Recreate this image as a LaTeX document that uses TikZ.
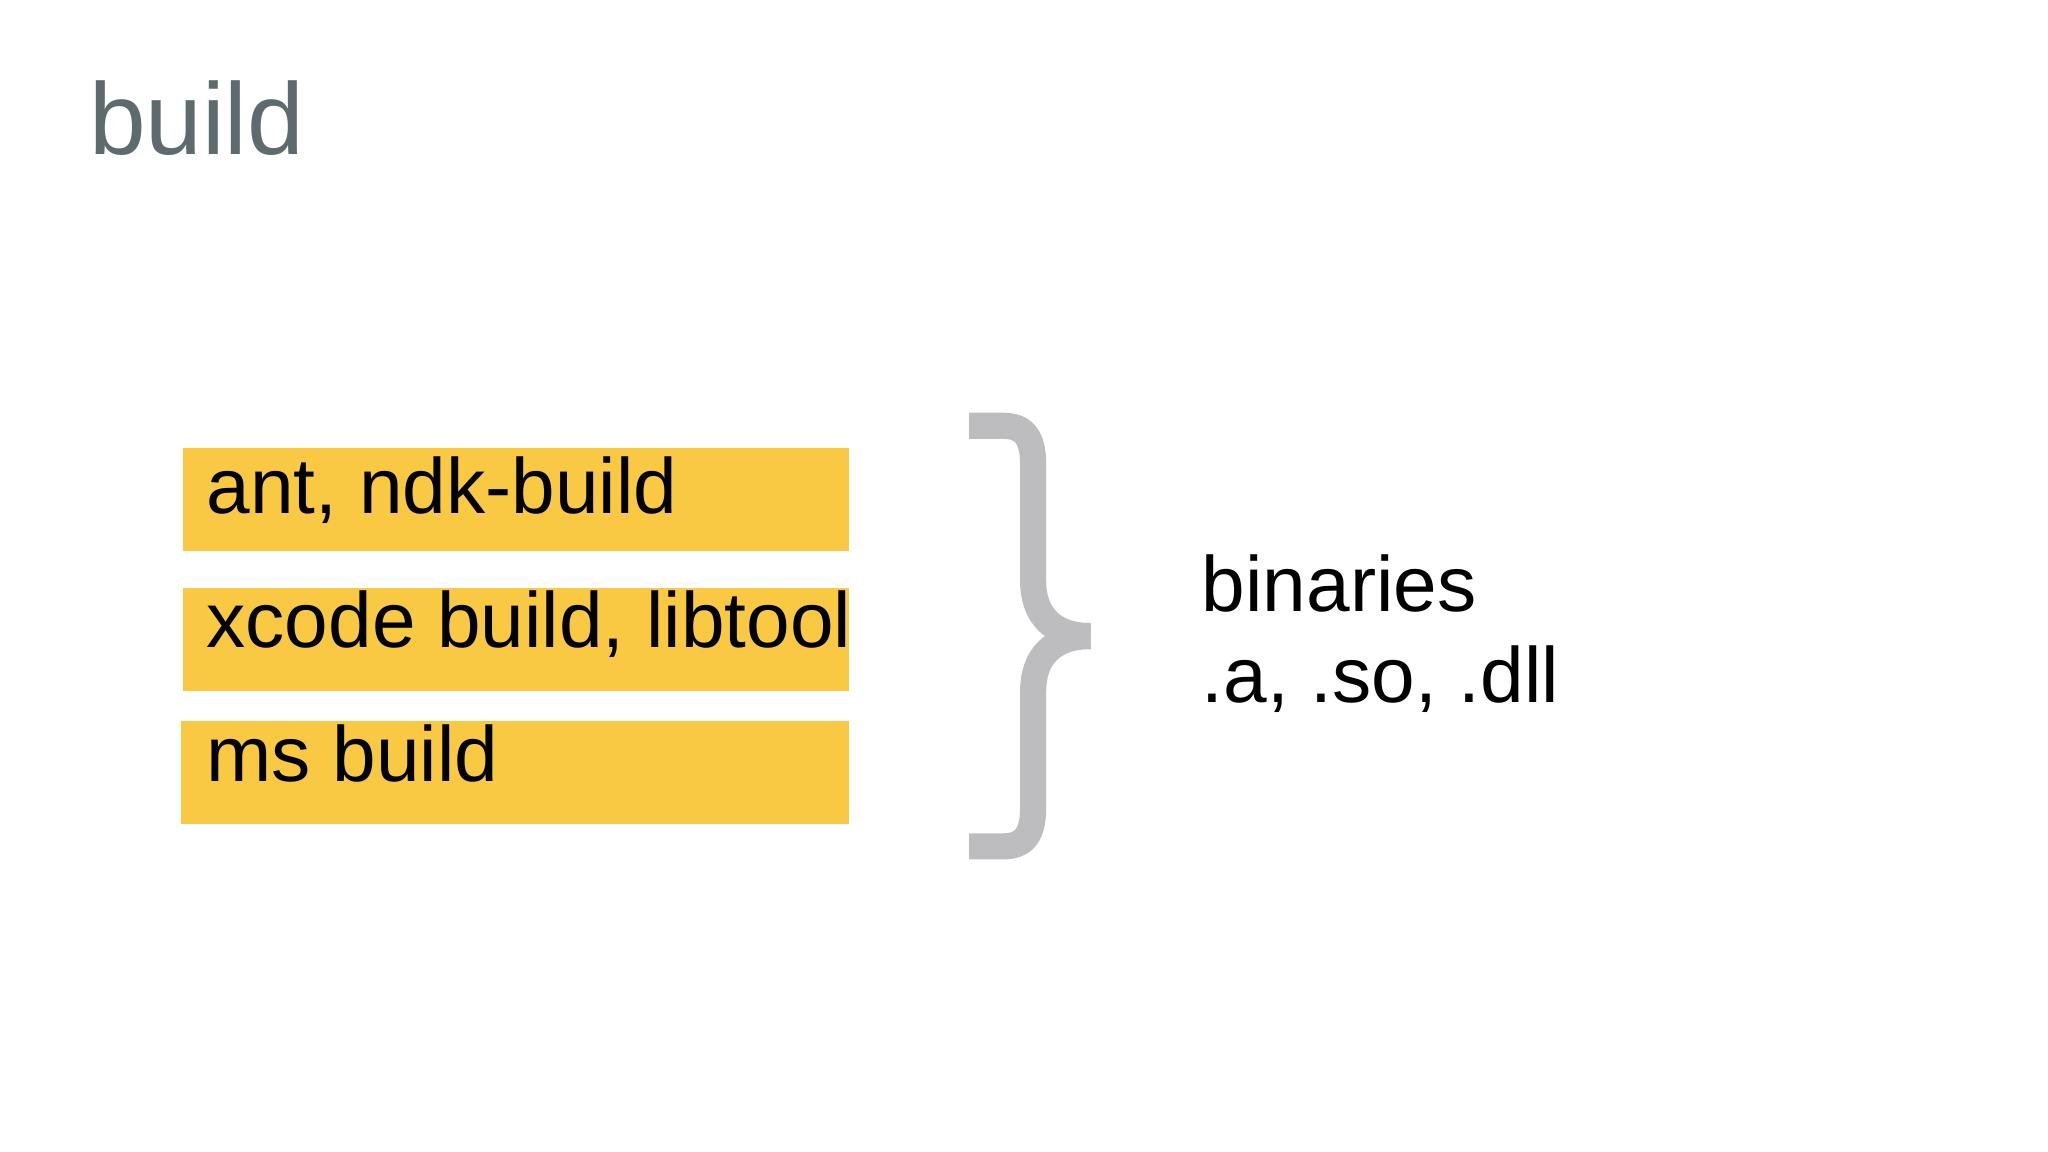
\documentclass[tikz,border=0pt]{standalone}
\usepackage{fontspec}
\setmainfont{Liberation Sans}
\definecolor{titlegray}{HTML}{5E6B6E}
\definecolor{boxyellow}{HTML}{F9C943}
\definecolor{bracegray}{HTML}{BDBDBF}
\begin{document}
\begin{tikzpicture}[x=1pt,y=-1pt,
  ybox/.style={fill=boxyellow,draw=none,minimum width=510pt,minimum height=79pt,anchor=north west,inner sep=0pt},
  btext/.style={anchor=base west,font=\fontsize{60}{60}\selectfont,inner sep=0pt},
  bracestroke/.style={draw=bracegray,line width=20pt,line cap=butt}]
\useasboundingbox (0,0) rectangle (1568,882);
\fill[white] (0,0) rectangle (1568,882);
\node[anchor=base west,inner sep=0pt,text=titlegray,font=\fontsize{78}{78}\selectfont] (title) at (68,118) {build};
\node[ybox] (b1) at (140,343) {};
\node[ybox] (b2) at (140,450) {};
\node[ybox,minimum width=512pt] (b3) at (138,552) {};
\node[btext] (t1) at (158,393) {ant, ndk-build};
\node[btext] (t2) at (158,496) {xcode build, libtool};
\node[btext] (t3) at (158,598) {ms build};
\coordinate (tip) at (835,487);
\draw[bracestroke] (742,326) -- (768,326) .. controls (785,326) and (791,336) .. (791,356) -- (791,445) .. controls (791,470) and (805,487) .. (tip);
\draw[bracestroke] (tip) .. controls (805,487) and (791,504) .. (791,529) -- (791,618) .. controls (791,638) and (785,648) .. (768,648) -- (742,648);
\node[btext] (bin) at (920,468) {binaries};
\node[btext] (ext) at (920,538) {.a, .so, .dll};
\end{tikzpicture}
\end{document}
